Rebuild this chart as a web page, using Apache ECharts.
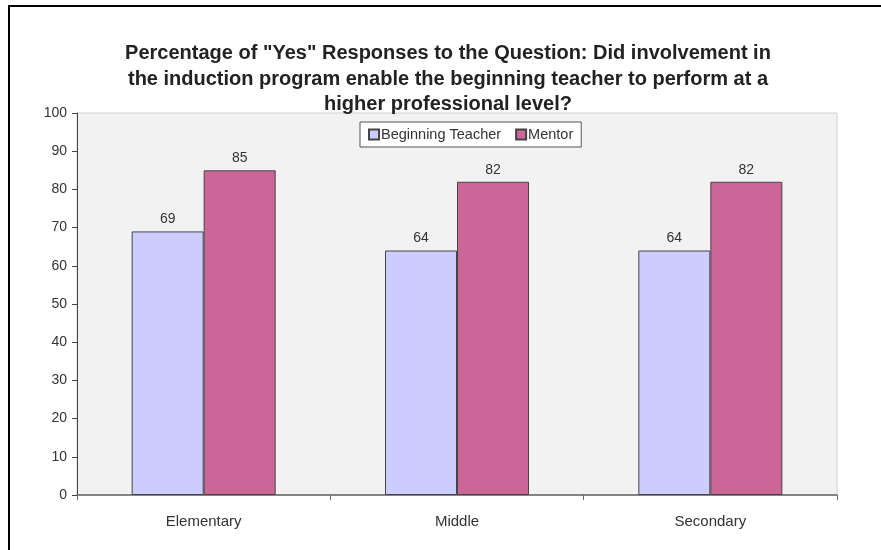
<!DOCTYPE html>
<html>
<head>
<meta charset="utf-8">
<script src="https://cdn.jsdelivr.net/npm/echarts@6/dist/echarts.min.js"></script>
<style>html,body{margin:0;padding:0;background:#fff}#c{width:881px;height:550px}</style>
</head>
<body>
<div id="c"></div>
<script>
const categories = ["Elementary", "Middle", "Secondary"];
const beginningTeacher = [69, 64, 64];
const mentor = [85, 82, 82];
const yTicks = [0, 10, 20, 30, 40, 50, 60, 70, 80, 90, 100];
const titleText = 'Percentage of "Yes" Responses to the Question: Did involvement in\nthe induction program enable the beginning teacher to perform at a\nhigher professional level?';

const chart = echarts.init(document.getElementById('c'));
const font = 'Liberation Sans, Arial, sans-serif';
const labelStyle = {show: true, position: 'top', color: '#333', fontSize: 14, fontFamily: font, distance: 5};
chart.setOption({
  animation: false,
  backgroundColor: '#fff',
  title: {
    text: titleText, left: 443, top: 36, textAlign: 'center',
    textStyle: {fontSize: 20, fontWeight: 'bold', color: '#222', lineHeight: 25.5, fontFamily: font, align: 'center'}
  },
  legend: {
    top: 122, left: 360, padding: [5, 8, 5, 8],
    backgroundColor: '#fff', borderColor: '#555', borderWidth: 1,
    itemWidth: 10, itemHeight: 10, itemGap: 14,
    textStyle: {fontSize: 14.5, color: '#333', fontFamily: font, padding: [0, 0, 0, -3]},
    data: [{name: 'Beginning Teacher', icon: 'rect'}, {name: 'Mentor', icon: 'rect'}]
  },
  grid: {
    left: 77, right: 44, top: 113, bottom: 55, show: true,
    backgroundColor: '#F2F2F2', borderColor: '#D0D0D0', borderWidth: 1
  },
  xAxis: {
    type: 'category', data: categories,
    axisLine: {lineStyle: {color: '#666', width: 1.5}},
    axisTick: {show: true, length: 5, lineStyle: {color: '#666'}},
    axisLabel: {fontSize: 15, color: '#333', fontFamily: font, margin: 19}
  },
  yAxis: {
    type: 'value', min: yTicks[0], max: yTicks[yTicks.length - 1], interval: 10,
    axisLine: {show: true, lineStyle: {color: '#444'}},
    axisTick: {show: true, length: 5, lineStyle: {color: '#444'}},
    splitLine: {show: false},
    axisLabel: {fontSize: 14, color: '#333', fontFamily: font, margin: 10}
  },
  series: [
    {name: 'Beginning Teacher', type: 'bar', data: beginningTeacher, barWidth: 72, barGap: '0%',
      itemStyle: {color: '#CCCCFF', borderColor: '#444', borderWidth: 1}, label: labelStyle},
    {name: 'Mentor', type: 'bar', data: mentor, barWidth: 72,
      itemStyle: {color: '#CC6699', borderColor: '#444', borderWidth: 1}, label: labelStyle}
  ],
  graphic: [
    {type: 'line', shape: {x1: 9, y1: 6, x2: 9, y2: 550}, style: {stroke: '#000', lineWidth: 2}, z: 100},
    {type: 'line', shape: {x1: 8, y1: 6, x2: 881, y2: 6}, style: {stroke: '#000', lineWidth: 2}, z: 100}
  ]
});
</script>
</body>
</html>
